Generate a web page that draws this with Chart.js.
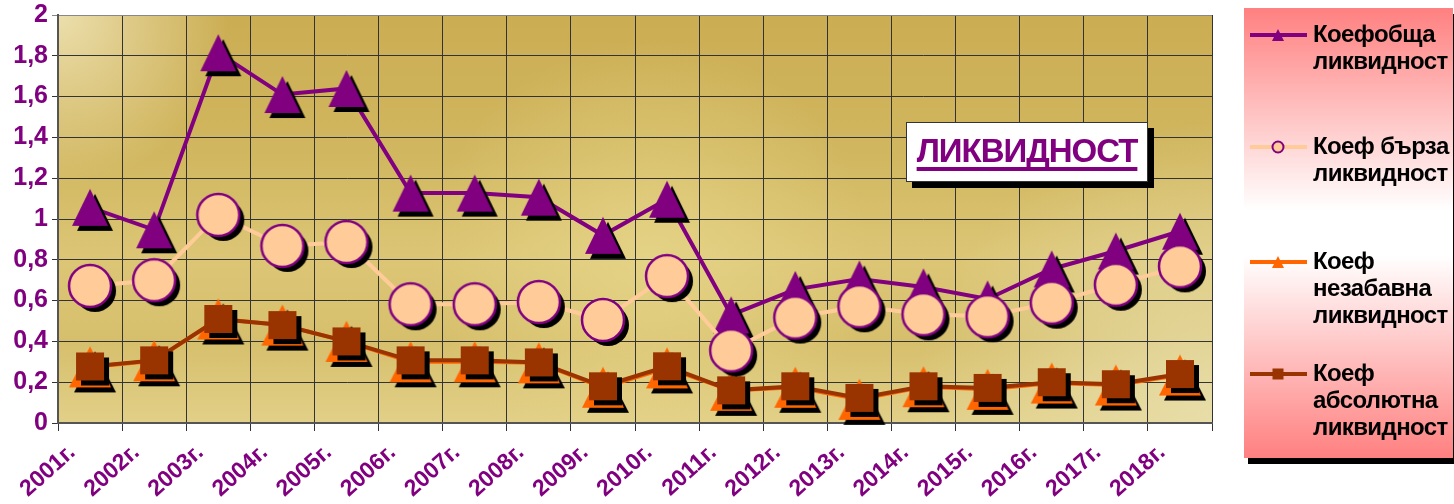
<!DOCTYPE html>
<html>
<head>
<meta charset="utf-8">
<script src="https://cdn.jsdelivr.net/npm/chart.js@4.4.0/dist/chart.umd.min.js"></script>
<style>
  html, body { margin: 0; padding: 0; background: #fff; }
  #wrap { position: relative; width: 1454px; height: 504px; overflow: hidden; }
  #chart { position: absolute; left: 0; top: 0; }
  #title {
    position: absolute; left: 906px; top: 122px; width: 240px; height: 58px;
    background: #fff; border: 1px solid #333; box-shadow: 6px 6px 0 #000;
    font: bold 33px 'Liberation Sans', Arial, sans-serif; color: #800080;
    text-align: center; line-height: 56px;
  }
  #title span {
    text-decoration: underline; text-decoration-thickness: 4px; text-underline-offset: 5px;
    text-decoration-skip-ink: none; letter-spacing: -1px;
  }
  #legend {
    position: absolute; left: 1244px; top: 8px; width: 209px; height: 450px;
    background: linear-gradient(#ff8080 0%, #fff 45%, #fff 55%, #ff8080 100%);
    box-shadow: 4px 6px 0 #000; overflow: hidden;
  }
  .item { position: absolute; left: 0; width: 209px; }
  .item canvas { position: absolute; left: 6px; top: -7px; }
  .item div {
    position: absolute; left: 69px; top: -15px;
    font: bold 24px 'Liberation Sans', Arial, sans-serif; line-height: 27px;
    white-space: pre; color: #000; letter-spacing: -0.6px;
  }
</style>
</head>
<body>
<div id="wrap">
  <canvas id="chart" width="1454" height="504"></canvas>
  <div id="title"><span>ЛИКВИДНОСТ</span></div>
  <div id="legend"></div>
</div>
<script>
const years = ['2001г.', '2002г.', '2003г.', '2004г.', '2005г.', '2006г.', '2007г.', '2008г.', '2009г.',
    '2010г.', '2011г.', '2012г.', '2013г.', '2014г.', '2015г.', '2016г.', '2017г.', '2018г.'];

const seriesNames = ['Коефобща\nликвидност', 'Коеф бърза\nликвидност', 'Коеф\nнезабавна\nликвидност', 'Коеф\nабсолютна\nликвидност'];

const obshta = [1.057, 0.947, 1.815, 1.61, 1.64, 1.127, 1.127, 1.107, 0.92, 1.097, 0.53, 0.655, 0.706, 0.667, 0.608, 0.755, 0.843, 0.94];
const barza = [0.672, 0.70, 1.02, 0.868, 0.887, 0.582, 0.582, 0.593, 0.505, 0.72, 0.356, 0.517, 0.572, 0.533, 0.523, 0.59, 0.678, 0.768];
const nezabavna = [0.275, 0.305, 0.51, 0.48, 0.40, 0.30, 0.30, 0.295, 0.175, 0.27, 0.16, 0.175, 0.116, 0.178, 0.165, 0.196, 0.186, 0.235];
const absolutna = [0.277, 0.307, 0.51, 0.48, 0.40, 0.307, 0.307, 0.297, 0.18, 0.278, 0.16, 0.18, 0.123, 0.18, 0.172, 0.20, 0.19, 0.24];

const yMin = 0, yMax = 2, yStep = 0.2;

const purple = '#800080', peach = '#FFCC99', orange = '#FF6600', brown = '#993300';
const font = "'Liberation Sans', Arial, sans-serif";

function shape(g, kind, x, y, w, h) {
    g.beginPath();
    if (kind === 'tri') {
        g.moveTo(x, y - h / 2);
        g.lineTo(x + w / 2, y + h / 2);
        g.lineTo(x - w / 2, y + h / 2);
        g.closePath();
    } else if (kind === 'circle') {
        g.arc(x, y, w / 2, 0, Math.PI * 2);
    } else {
        g.rect(x - w / 2, y - h / 2, w, h);
    }
}

// marker image with the black drop shadow baked in
function marker(kind, w, h, fill, stroke) {
    const off = 5, pad = 8;
    const c = document.createElement('canvas');
    c.width = w + pad * 2;
    c.height = h + pad * 2;
    const g = c.getContext('2d');
    const cx = c.width / 2, cy = c.height / 2;
    shape(g, kind, cx + off, cy + off, w, h);
    g.fillStyle = '#000';
    g.fill();
    shape(g, kind, cx, cy, w, h);
    g.fillStyle = fill;
    g.fill();
    if (stroke) {
        g.lineWidth = 2.5;
        g.strokeStyle = stroke;
        g.stroke();
    }
    return c;
}

const plotBackground = {
    id: 'plotBackground',
    beforeDraw(chart) {
        const { ctx, chartArea: a } = chart;
        ctx.save();
        const v = ctx.createLinearGradient(0, a.top, 0, a.bottom);
        v.addColorStop(0, '#cbad53');
        v.addColorStop(0.35, '#d1b760');
        v.addColorStop(0.6, '#dcc676');
        v.addColorStop(0.8, '#d6bf6c');
        v.addColorStop(1, '#e2d088');
        ctx.fillStyle = v;
        ctx.fillRect(a.left, a.top, a.width, a.height);

        const r1 = ctx.createRadialGradient(a.left, a.top, 0, a.left, a.top, 170);
        r1.addColorStop(0, 'rgba(238,226,178,0.95)');
        r1.addColorStop(1, 'rgba(238,226,178,0)');
        ctx.fillStyle = r1;
        ctx.fillRect(a.left, a.top, a.width, a.height);

        const r2 = ctx.createRadialGradient(a.right, a.bottom, 0, a.right, a.bottom, 300);
        r2.addColorStop(0, 'rgba(232,222,170,0.95)');
        r2.addColorStop(1, 'rgba(232,222,170,0)');
        ctx.fillStyle = r2;
        ctx.fillRect(a.left, a.top, a.width, a.height);

        const r3 = ctx.createRadialGradient(650, 260, 0, 650, 260, 220);
        r3.addColorStop(0, 'rgba(232,216,140,0.7)');
        r3.addColorStop(1, 'rgba(232,216,140,0)');
        ctx.fillStyle = r3;
        ctx.fillRect(a.left, a.top, a.width, a.height);
        ctx.restore();
    }
};

const chart = new Chart(document.getElementById('chart').getContext('2d'), {
    type: 'line',
    data: {
        labels: years,
        datasets: [{
            label: seriesNames[0],
            data: obshta,
            borderColor: purple,
            borderWidth: 4,
            pointStyle: marker('tri', 36, 37, purple),
            pointRadius: 20,
            order: 1
        }, {
            label: seriesNames[1],
            data: barza,
            borderColor: peach,
            borderWidth: 4,
            pointStyle: marker('circle', 42, 42, peach, purple),
            pointRadius: 20,
            order: 0
        }, {
            label: seriesNames[2],
            data: nezabavna,
            borderColor: orange,
            borderWidth: 4,
            pointStyle: marker('tri', 42, 41, orange),
            pointRadius: 20,
            order: 3
        }, {
            label: seriesNames[3],
            data: absolutna,
            borderColor: brown,
            borderWidth: 4,
            pointStyle: marker('rect', 28, 28, brown),
            pointRadius: 20,
            order: 2
        }]
    },
    options: {
        responsive: false,
        animation: false,
        events: [],
        clip: false,
        layout: { autoPadding: false, padding: { left: 0, top: 15, right: 242, bottom: 0 } },
        plugins: { legend: { display: false }, tooltip: { enabled: false } },
        scales: {
            x: {
                offset: true,
                grid: {
                    offset: true,
                    color: c => c.index === years.length ? '#999' : '#333',
                    lineWidth: 1,
                    tickLength: 8
                },
                border: { color: '#555', width: 2 },
                ticks: {
                    color: purple,
                    font: { family: font, size: 23, weight: 'bold' },
                    minRotation: 42,
                    maxRotation: 42,
                    labelOffset: -18,
                    padding: 8,
                    autoSkip: false
                },
                afterFit: s => { s.height = 81; s.paddingLeft = 0; s.paddingRight = 0; }
            },
            y: {
                min: yMin,
                max: yMax,
                grid: {
                    color: c => c.tick && c.tick.value === yMax ? '#888' : '#333',
                    lineWidth: 1,
                    tickLength: 6
                },
                border: { color: '#555', width: 2 },
                ticks: {
                    stepSize: yStep,
                    color: purple,
                    font: { family: font, size: 25, weight: 'bold' },
                    padding: 4,
                    callback: v => String(+v.toFixed(1)).replace('.', ',')
                },
                afterFit: s => { s.width = 58; s.paddingTop = 0; s.paddingBottom = 0; }
            }
        }
    },
    plugins: [plotBackground]
});

// legend box on the right
const legendTops = [27, 139, 254, 366];
const legendKinds = [['tri', 12, 12, purple], ['circle', 11, 11, peach, purple], ['tri', 12, 12, orange], ['rect', 11, 11, brown]];
const legendEl = document.getElementById('legend');
chart.data.datasets.forEach((ds, i) => {
    const item = document.createElement('div');
    item.className = 'item';
    item.style.top = legendTops[i] + 'px';
    const sw = document.createElement('canvas');
    sw.width = 58;
    sw.height = 14;
    const g = sw.getContext('2d');
    g.strokeStyle = ds.borderColor;
    g.lineWidth = 4;
    g.beginPath();
    g.moveTo(0, 7);
    g.lineTo(57, 7);
    g.stroke();
    const k = legendKinds[i];
    shape(g, k[0], 28, 7, k[1], k[2]);
    g.fillStyle = k[3];
    g.fill();
    if (k[4]) { g.lineWidth = 2; g.strokeStyle = k[4]; g.stroke(); }
    const txt = document.createElement('div');
    txt.textContent = ds.label;
    item.appendChild(sw);
    item.appendChild(txt);
    legendEl.appendChild(item);
});
</script>
</body>
</html>
